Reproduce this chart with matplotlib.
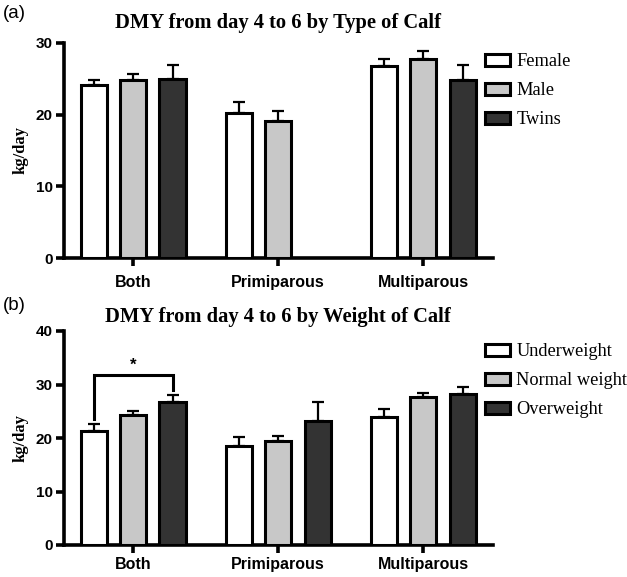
import numpy as np
import matplotlib
matplotlib.use("Agg")
import matplotlib.pyplot as plt

categories = ['Both', 'Primiparous', 'Multiparous']

type_labels = ['Female', 'Male', 'Twins']
type_means = [
    [24.2, 20.2, 26.8],
    [24.8, 19.1, 27.8],
    [25.0, np.nan, 24.9],
]
type_errs = [
    [0.7, 1.5, 0.9],
    [0.9, 1.4, 1.1],
    [2.0, np.nan, 2.0],
]

weight_labels = ['Underweight', 'Normal weight', 'Overweight']
weight_means = [
    [21.3, 18.5, 23.9],
    [24.3, 19.4, 27.7],
    [26.7, 23.1, 28.3],
]
weight_errs = [
    [1.4, 1.6, 1.6],
    [0.8, 0.9, 0.8],
    [1.4, 3.6, 1.3],
]

colors = ['#ffffff', '#c8c8c8', '#333333']
W, H = 627, 577

fig = plt.figure(figsize=(W / 100, H / 100), dpi=100)

def px_axes(left, top, right, bottom):
    return fig.add_axes([left / W, 1 - bottom / H, (right - left) / W, (bottom - top) / H])

def draw_panel(ax, means, errs, labels, ymax, leg_top, xpad):
    x = np.arange(len(categories))
    offsets = [-0.272, 0.0, 0.272]
    handles = []
    for i in range(3):
        m = np.array(means[i], dtype=float)
        e = np.array(errs[i], dtype=float)
        xs = x + offsets[i]
        ok = ~np.isnan(m)
        b = ax.bar(xs[ok], m[ok], width=0.18, color=colors[i], edgecolor='black',
                   linewidth=2.2, zorder=3, label=labels[i])
        ax.errorbar(xs[ok], m[ok], yerr=[np.zeros(ok.sum()), e[ok]], fmt='none',
                    ecolor='black', elinewidth=1.6, capsize=4, capthick=1.6, zorder=2)
        handles.append(b)
    ax.set_xlim(-0.476, 2.48)
    ax.set_ylim(0, ymax)
    ax.set_yticks(np.arange(0, ymax + 1, 10))
    ax.set_xticks(x)
    ax.set_xticklabels(categories, fontfamily='Liberation Sans', fontweight='bold', fontsize=11.5)
    for t in ax.get_yticklabels():
        t.set_fontfamily('Liberation Sans')
        t.set_fontweight('bold')
        t.set_fontsize(11)
    ax.spines['top'].set_visible(False)
    ax.spines['right'].set_visible(False)
    ax.spines['left'].set_linewidth(2.6)
    ax.spines['bottom'].set_linewidth(2.6)
    ax.tick_params(axis='y', length=6, width=2.6, pad=2)
    ax.tick_params(axis='x', length=6, width=2.6, pad=xpad)
    ax.set_ylabel('kg/day', fontfamily='Liberation Serif', fontweight='bold', fontsize=12, labelpad=5)
    leg = ax.legend(handles=handles, loc='upper left',
                    bbox_to_anchor=(476 / W, 1 - leg_top / H), bbox_transform=fig.transFigure,
                    frameon=False, borderpad=0, handlelength=1.35, handleheight=0.6,
                    handletextpad=0.35, labelspacing=0.66,
                    prop={'family': 'Liberation Serif', 'size': 13.2})
    for p in leg.get_patches():
        p.set_linewidth(2.2)
    return ax

ax1 = px_axes(64, 43, 493, 258)
draw_panel(ax1, type_means, type_errs, type_labels, 30, 44, 6)

ax2 = px_axes(64, 331, 493, 545)
draw_panel(ax2, weight_means, weight_errs, weight_labels, 40, 334, 2.5)

# significance bracket in panel (b)
xl, xr = 0 - 0.272, 0 + 0.272
ax2.plot([xl, xl, xr, xr], [23.6, 31.7, 31.7, 29.0], color='black', lw=2.2,
         solid_joinstyle='miter', zorder=4, clip_on=False)
ax2.text(0, 33.6, '*', ha='center', va='center', fontsize=12, fontweight='bold',
         fontfamily='Liberation Sans')

# titles
fig.text(278 / W, 1 - 28 / H, 'DMY from day 4 to 6 by Type of Calf', ha='center', va='baseline',
         fontfamily='Liberation Serif', fontweight='bold', fontsize=14.8)
fig.text(278 / W, 1 - 322 / H, 'DMY from day 4 to 6 by Weight of Calf', ha='center', va='baseline',
         fontfamily='Liberation Serif', fontweight='bold', fontsize=14.8)

# panel labels
fig.text(3 / W, 1 - 14 / H, '(a)', ha='left', va='center', fontfamily='Liberation Sans', fontsize=13.5)
fig.text(3 / W, 1 - 305 / H, '(b)', ha='left', va='center', fontfamily='Liberation Sans', fontsize=13.5)

fig.savefig('out.png', dpi=100)
